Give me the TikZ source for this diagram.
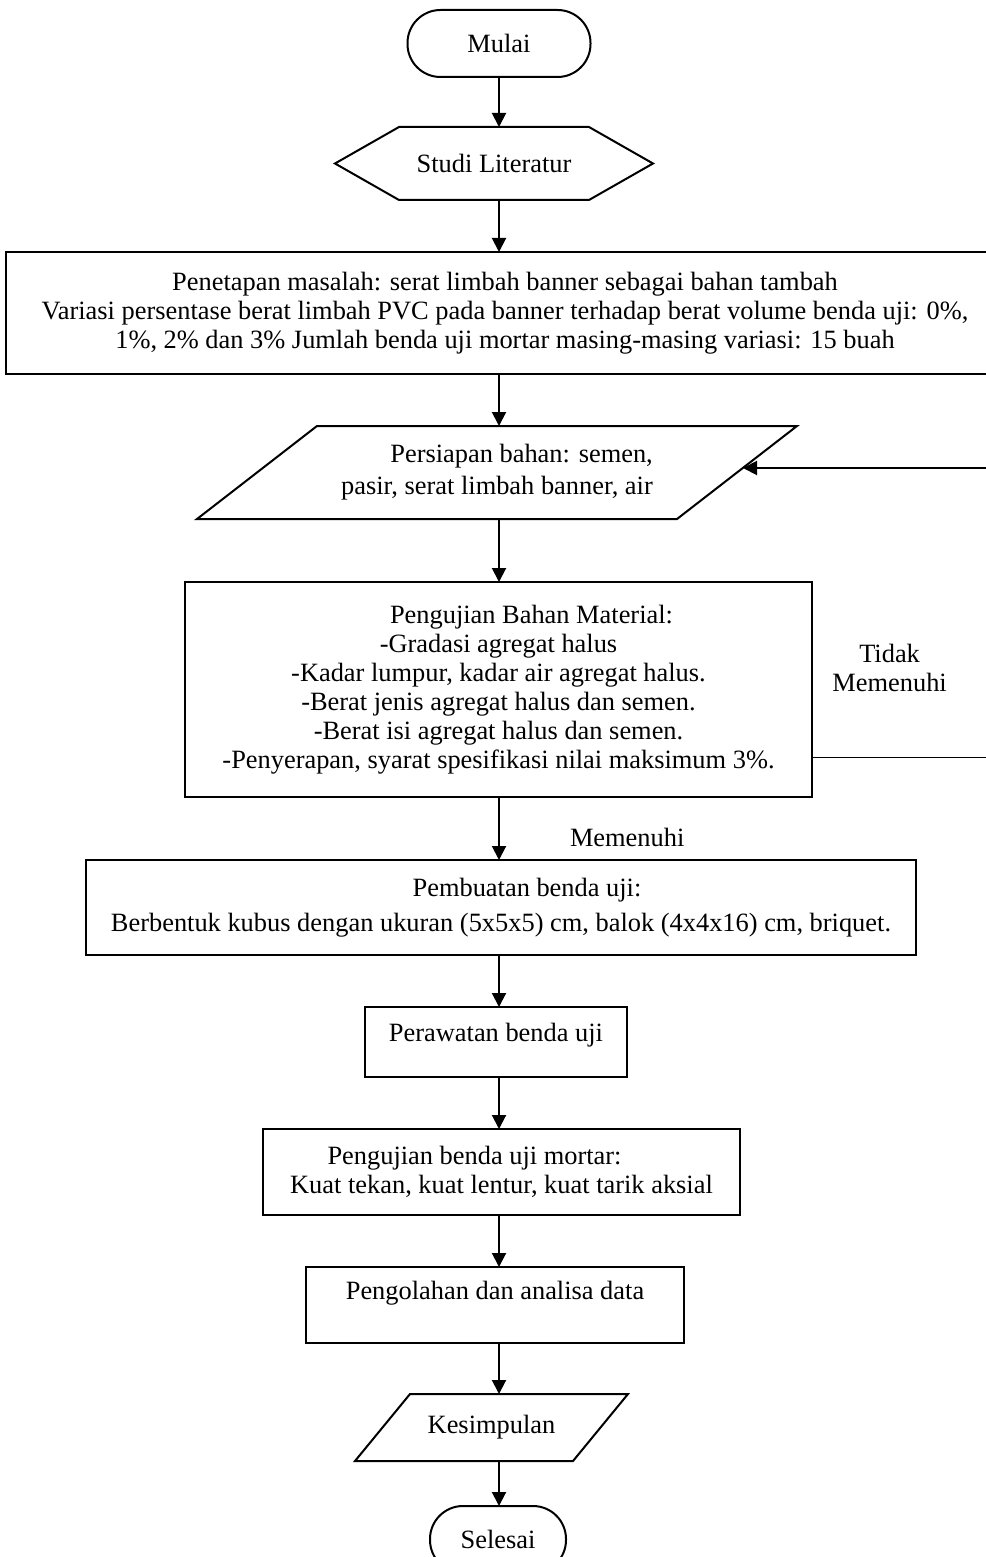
\documentclass[tikz,border=0pt]{standalone}
\usepackage{fontspec}
\setmainfont{Liberation Serif}
\usetikzlibrary{positioning, calc, arrows.meta}
\tikzset{
every node/.style = {font = \fontsize{13.2pt}{14.5pt}\selectfont},
terminal/.style = {rectangle, draw, line width = 1pt, rounded corners = 16.5pt,
	minimum height = 33.5pt, inner sep = 2pt, outer sep = 0pt},
process/.style = {rectangle, draw, line width = 1pt, align = center,
	inner sep = 3pt, outer sep = 0pt},
holder/.style = {rectangle, inner sep = 2pt, outer sep = 0pt, align = center},
outline/.style = {line width = 1pt, line join = miter},
arrow/.style = {-{Triangle[length = 7pt, width = 7pt]}, line width = 1pt},
feedback/.style = {thin},
lbl/.style = {inner sep = 2pt, align = center}
}

\begin{document}
\begin{tikzpicture}[x = 0.5pt, y = -0.5pt]
\useasboundingbox (0,0) rectangle (985,1557);
\coordinate (poros) at (499,0);

%% The flow
\node [terminal, minimum width = 91.5pt] (mulai) at (499,43.5) {Mulai};
\node [holder, minimum width = 95pt, minimum height = 36.5pt] (studi)
	[below = 25pt of mulai, xshift = -2.5pt] {Studi Literatur};
\node [process, minimum width = 499pt, minimum height = 61pt] (penetapan)
	[below = 26pt of studi, xshift = 5.5pt]
	{Penetapan masalah: serat limbah banner sebagai bahan tambah\\
	Variasi persentase berat limbah PVC pada banner terhadap berat volume benda uji: 0\%,\\
	1\%, 2\% dan 3\% Jumlah benda uji mortar masing-masing variasi: 15 buah};
\node [holder, align = right, minimum width = 240pt, minimum height = 46.5pt] (persiapan)
	[below = 26pt of penetapan, xshift = -4pt]
	{Persiapan bahan: semen,\\[1.5pt] pasir, serat limbah banner, air};
\node [process, minimum width = 313.5pt, minimum height = 107.5pt] (ujibahan)
	[below = 31.5pt of persiapan, xshift = 0.75pt]
	{\hspace*{33pt}Pengujian Bahan Material:\\
	-Gradasi agregat halus\\
	-Kadar lumpur, kadar air agregat halus.\\
	-Berat jenis agregat halus dan semen.\\
	-Berat isi agregat halus dan semen.\\
	-Penyerapan, syarat spesifikasi nilai maksimum 3\%.};
\node [process, minimum width = 415pt, minimum height = 47.5pt] (buat)
	[below = 31.5pt of ujibahan, xshift = 1.25pt]
	{\hspace*{26pt}Pembuatan benda uji:\\[3pt]
	Berbentuk kubus dengan ukuran (5x5x5) cm, balok (4x4x16) cm, briquet.};
\node [process, minimum width = 131pt, minimum height = 35pt, text depth = 9.7pt] (rawat)
	[below = 26pt of buat, xshift = -2.5pt] {Perawatan benda uji};
\node [process, minimum width = 238.5pt, minimum height = 43pt] (ujimortar)
	[below = 26pt of rawat, xshift = 2.75pt]
	{Pengujian benda uji mortar:\hspace*{27pt}\\
	Kuat tekan, kuat lentur, kuat tarik aksial};
\node [process, minimum width = 189pt, minimum height = 38pt, text depth = 14.7pt] (olah)
	[below = 26pt of ujimortar, xshift = -3.25pt] {Pengolahan dan analisa data};
\node [holder, minimum width = 109pt, minimum height = 33.5pt] (simpul)
	[below = 25.5pt of olah, xshift = -1.75pt] {Kesimpulan};
\node [terminal, minimum width = 68pt] (selesai)
	[below = 22.5pt of simpul, xshift = 3.25pt] {Selesai};

%% The hexagon and the parallelograms
\draw [outline] (studi.north west) -- (studi.north east) -- ([xshift = 32pt]studi.east)
	-- (studi.south east) -- (studi.south west) -- ([xshift = -32pt]studi.west) -- cycle;
\draw [outline] ([xshift = 30pt]persiapan.north west) -- ([xshift = 30pt]persiapan.north east)
	-- ([xshift = -30pt]persiapan.south east) -- ([xshift = -30pt]persiapan.south west) -- cycle;
\draw [outline] ([xshift = 13.75pt]simpul.north west) -- ([xshift = 13.75pt]simpul.north east)
	-- ([xshift = -13.75pt]simpul.south east) -- ([xshift = -13.75pt]simpul.south west) -- cycle;

%% The arrows
\draw [arrow] (poros |- mulai.south) -- (poros |- studi.north);
\draw [arrow] (poros |- studi.south) -- (poros |- penetapan.north);
\draw [arrow] (poros |- penetapan.south) -- (poros |- persiapan.north);
\draw [arrow] (poros |- persiapan.south) -- (poros |- ujibahan.north);
\draw [arrow] (poros |- ujibahan.south) -- node [lbl, pos = 0.65, right = 33pt] (memenuhi) {Memenuhi}
	(poros |- buat.north);
\draw [arrow] (poros |- buat.south) -- (poros |- rawat.north);
\draw [arrow] (poros |- rawat.south) -- (poros |- ujimortar.north);
\draw [arrow] (poros |- ujimortar.south) -- (poros |- olah.north);
\draw [arrow] (poros |- olah.south) -- (poros |- simpul.north);
\draw [arrow] (poros |- simpul.south) -- (poros |- selesai.north);

%% The way back
\node [lbl] (tidak) [right = 8pt of ujibahan, yshift = 11pt] {Tidak\\Memenuhi};
\coordinate (keluar) at ([yshift = -34pt]ujibahan.east);
\coordinate (sudut) at ([xshift = 90pt]ujibahan.east);
\coordinate (masuk) at ([xshift = 3pt, yshift = 2.25pt]persiapan.east);
\draw [feedback] (keluar) -- (keluar -| sudut) -- (masuk -| sudut);
\draw [arrow] (masuk -| sudut) -- (masuk);

\end{tikzpicture}
\end{document}
